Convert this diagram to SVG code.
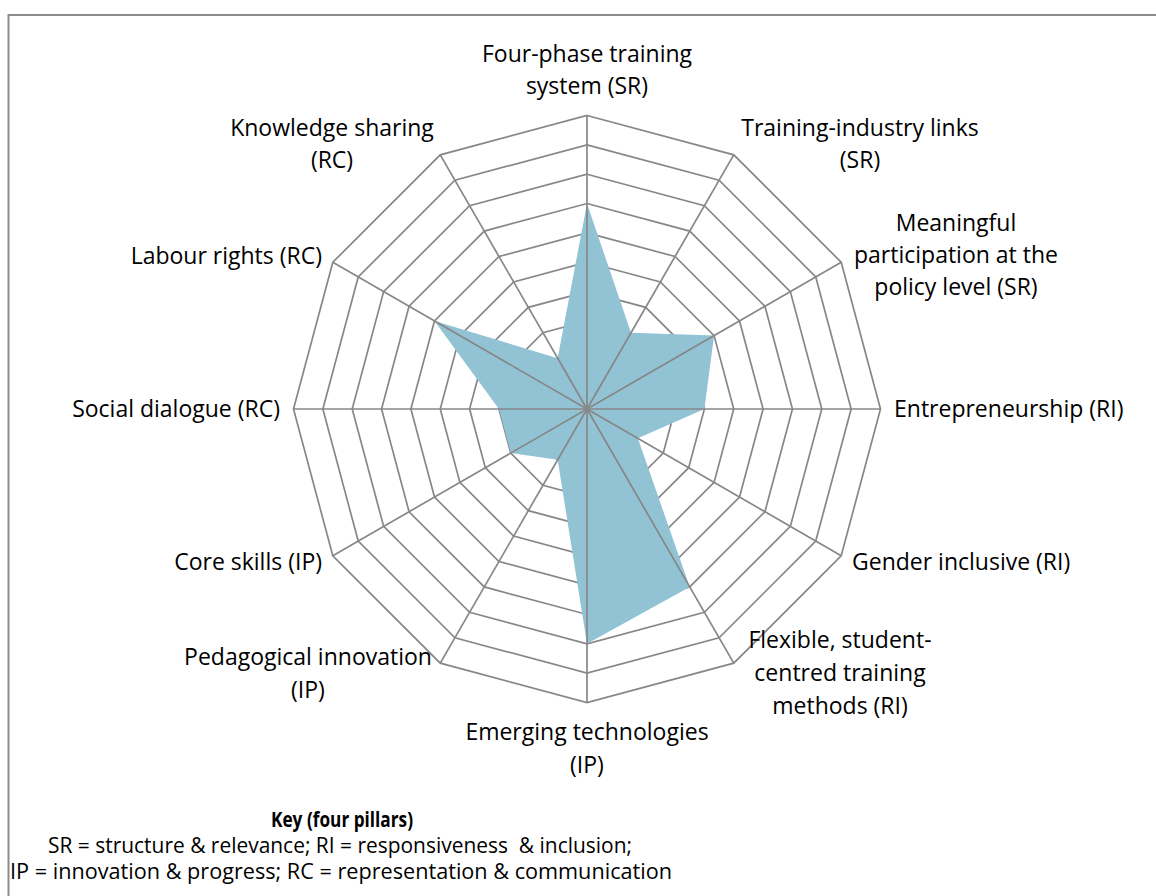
<svg xmlns="http://www.w3.org/2000/svg" width="1156" height="896" viewBox="0 0 1156 896">
<style>
.ring{fill:none;stroke:#878787;stroke-width:1.7;stroke-linejoin:miter}
.spoke{stroke:#878787;stroke-width:1.7}
.lbl{font-family:"Open Sans","Liberation Sans",sans-serif;font-size:23px;fill:#000}
.key{font-family:"Open Sans","Liberation Sans",sans-serif;font-size:21px;fill:#000;text-anchor:middle;white-space:pre}
.keyb{font-weight:bold}
</style>
<rect width="1156" height="896" fill="#fff"/>
<path d="M8.5 896 V15 H1156" fill="none" stroke="#8c8c8c" stroke-width="2"/>
<g id="grid" transform="translate(587,409)">
<polygon class="ring" points="0,-29.35 14.68,-25.42 25.42,-14.68 29.35,0 25.42,14.68 14.68,25.42 0,29.35 -14.68,25.42 -25.42,14.68 -29.35,0 -25.42,-14.68 -14.68,-25.42"/>
<polygon class="ring" points="0,-58.7 29.35,-50.84 50.84,-29.35 58.7,0 50.84,29.35 29.35,50.84 0,58.7 -29.35,50.84 -50.84,29.35 -58.7,0 -50.84,-29.35 -29.35,-50.84"/>
<polygon class="ring" points="0,-88.05 44.03,-76.25 76.25,-44.03 88.05,0 76.25,44.03 44.03,76.25 0,88.05 -44.03,76.25 -76.25,44.03 -88.05,0 -76.25,-44.03 -44.03,-76.25"/>
<polygon class="ring" points="0,-117.4 58.7,-101.67 101.67,-58.7 117.4,0 101.67,58.7 58.7,101.67 0,117.4 -58.7,101.67 -101.67,58.7 -117.4,0 -101.67,-58.7 -58.7,-101.67"/>
<polygon class="ring" points="0,-146.75 73.38,-127.09 127.09,-73.38 146.75,0 127.09,73.38 73.38,127.09 0,146.75 -73.38,127.09 -127.09,73.38 -146.75,0 -127.09,-73.38 -73.38,-127.09"/>
<polygon class="ring" points="0,-176.1 88.05,-152.51 152.51,-88.05 176.1,0 152.51,88.05 88.05,152.51 0,176.1 -88.05,152.51 -152.51,88.05 -176.1,0 -152.51,-88.05 -88.05,-152.51"/>
<polygon class="ring" points="0,-205.45 102.73,-177.93 177.93,-102.73 205.45,0 177.93,102.73 102.73,177.93 0,205.45 -102.73,177.93 -177.93,102.73 -205.45,0 -177.93,-102.73 -102.73,-177.93"/>
<polygon class="ring" points="0,-234.8 117.4,-203.34 203.34,-117.4 234.8,0 203.34,117.4 117.4,203.34 0,234.8 -117.4,203.34 -203.34,117.4 -234.8,0 -203.34,-117.4 -117.4,-203.34"/>
<polygon class="ring" points="0,-264.15 132.08,-228.76 228.76,-132.08 264.15,0 228.76,132.08 132.08,228.76 0,264.15 -132.08,228.76 -228.76,132.08 -264.15,0 -228.76,-132.08 -132.08,-228.76"/>
<polygon class="ring" points="0,-293.5 146.75,-254.18 254.18,-146.75 293.5,0 254.18,146.75 146.75,254.18 0,293.5 -146.75,254.18 -254.18,146.75 -293.5,0 -254.18,-146.75 -146.75,-254.18"/>
</g>
<g id="series" transform="translate(587,409)">
<polygon fill="#92c3d5" points="0,-205.45 44.03,-76.25 127.09,-73.38 117.4,0 50.84,29.35 102.73,177.93 0,234.8 -29.35,50.84 -76.25,44.03 -88.05,0 -152.51,-88.05 -29.35,-50.84"/>
</g>
<g id="connectors" transform="translate(587,409)">
<line class="spoke" x1="0" y1="0" x2="0" y2="-293.5"/>
<line class="spoke" x1="0" y1="0" x2="146.75" y2="-254.18"/>
<line class="spoke" x1="0" y1="0" x2="254.18" y2="-146.75"/>
<line class="spoke" x1="0" y1="0" x2="293.5" y2="0"/>
<line class="spoke" x1="0" y1="0" x2="254.18" y2="146.75"/>
<line class="spoke" x1="0" y1="0" x2="146.75" y2="254.18"/>
<line class="spoke" x1="0" y1="0" x2="0" y2="293.5"/>
<line class="spoke" x1="0" y1="0" x2="-146.75" y2="254.18"/>
<line class="spoke" x1="0" y1="0" x2="-254.18" y2="146.75"/>
<line class="spoke" x1="0" y1="0" x2="-293.5" y2="0"/>
<line class="spoke" x1="0" y1="0" x2="-254.18" y2="-146.75"/>
<line class="spoke" x1="0" y1="0" x2="-146.75" y2="-254.18"/>
</g>
<g id="label-four-phase"><text class="lbl" text-anchor="middle" x="587" y="62">Four-phase training</text><text class="lbl" text-anchor="middle" x="587" y="94">system (SR)</text></g>
<g id="label-training-industry"><text class="lbl" text-anchor="middle" x="860" y="136">Training-industry links</text><text class="lbl" text-anchor="middle" x="860" y="168">(SR)</text></g>
<g id="label-meaningful"><text class="lbl" text-anchor="middle" x="956" y="231">Meaningful</text><text class="lbl" text-anchor="middle" x="956" y="263">participation at the</text><text class="lbl" text-anchor="middle" x="956" y="295">policy level (SR)</text></g>
<g id="label-entrepreneurship"><text class="lbl" text-anchor="start" x="894" y="417">Entrepreneurship (RI)</text></g>
<g id="label-gender"><text class="lbl" text-anchor="start" x="852" y="570">Gender inclusive (RI)</text></g>
<g id="label-flexible"><text class="lbl" text-anchor="middle" x="840" y="648">Flexible, student-</text><text class="lbl" text-anchor="middle" x="840" y="681">centred training</text><text class="lbl" text-anchor="middle" x="840" y="714">methods (RI)</text></g>
<g id="label-emerging"><text class="lbl" text-anchor="middle" x="587" y="740">Emerging technologies</text><text class="lbl" text-anchor="middle" x="587" y="773">(IP)</text></g>
<g id="label-pedagogical"><text class="lbl" text-anchor="middle" x="308" y="665">Pedagogical innovation</text><text class="lbl" text-anchor="middle" x="308" y="698">(IP)</text></g>
<g id="label-core"><text class="lbl" text-anchor="end" x="322" y="570">Core skills (IP)</text></g>
<g id="label-social"><text class="lbl" text-anchor="end" x="280" y="417">Social dialogue (RC)</text></g>
<g id="label-labour"><text class="lbl" text-anchor="end" x="322" y="264">Labour rights (RC)</text></g>
<g id="label-knowledge"><text class="lbl" text-anchor="middle" x="332" y="136">Knowledge sharing</text><text class="lbl" text-anchor="middle" x="332" y="168">(RC)</text></g>
<g id="key">
<text class="key keyb" x="342" y="827" textLength="142" lengthAdjust="spacingAndGlyphs">Key (four pillars)</text>
<text class="key" x="340" y="853" xml:space="preserve" textLength="584" lengthAdjust="spacingAndGlyphs">SR = structure &amp; relevance; RI = responsiveness  &amp; inclusion;</text>
<text class="key" x="341" y="879" textLength="662" lengthAdjust="spacingAndGlyphs">IP = innovation &amp; progress; RC = representation &amp; communication</text>
</g>
</svg>
